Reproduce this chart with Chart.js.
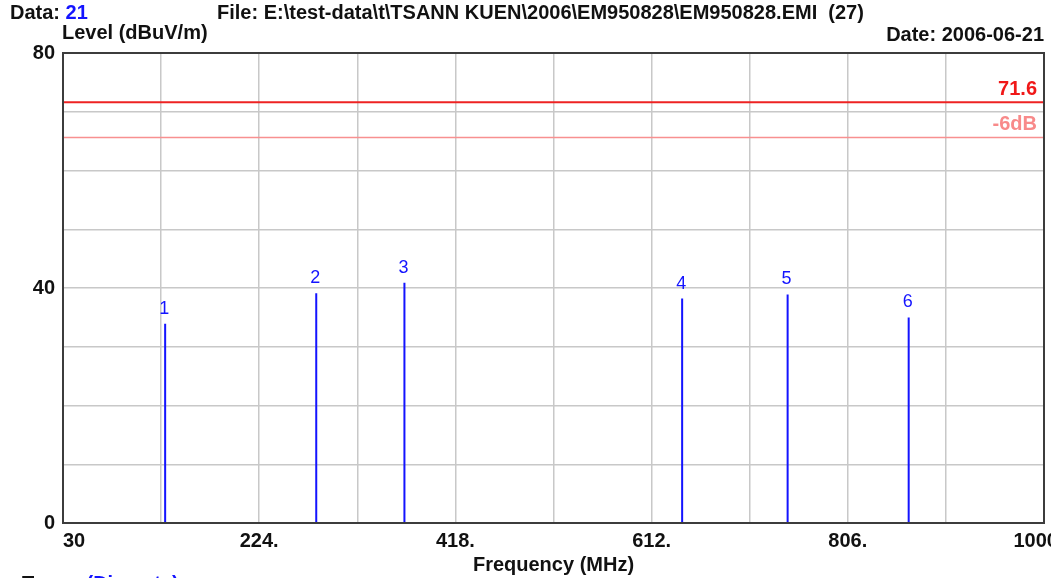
<!DOCTYPE html>
<html>
<head>
<meta charset="utf-8">
<script src="https://cdn.jsdelivr.net/npm/chart.js@4"></script>
<style>
  html, body { margin: 0; padding: 0; background: #fff; overflow: hidden; }
  #wrap { width: 1051px; height: 578px; }
</style>
</head>
<body>
<div id="wrap"><canvas id="emiChart" width="1051" height="578"></canvas></div>
<script>
// marker data
const markerNames = ['1', '2', '3', '4', '5', '6'];
const markerFreqs = [131, 280.4, 367.6, 642.2, 746.5, 866.2];   // MHz
const markerLevels = [33.9, 39.1, 40.9, 38.2, 38.9, 35.0];     // dBuV/m

// limit lines
const limitLevel = 71.6;
const marginLevel = 65.6;   // limit -6dB

// axes
const xTickValues = [30, 224, 418, 612, 806, 1000];
const xTickLabels = ['    30', '224.', '418.', '612.', '806.', '1000   '];
const yTickValues = [0, 40, 80];
const yTickLabels = ['0', '40', '80'];

const FONT = '"Liberation Sans", Arial, sans-serif';
const BLUE = '#1414ff';

// build the stick data (bottom -> top, then a gap)
const stickData = [];
markerFreqs.forEach((f, i) => {
  stickData.push({ x: f, y: 0 });
  stickData.push({ x: f, y: markerLevels[i] });
  stickData.push({ x: f, y: null });
});

const textPlugin = {
  id: 'emiText',
  afterDraw(chart) {
    const ctx = chart.ctx;
    const xs = chart.scales.x, ys = chart.scales.y;
    const area = chart.chartArea;
    ctx.save();

    // frame round the plot
    ctx.strokeStyle = '#3c3c3c';
    ctx.lineWidth = 2;
    ctx.strokeRect(area.left, area.top, area.right - area.left, area.bottom - area.top);

    // marker numbers
    ctx.font = '18px ' + FONT;
    ctx.fillStyle = BLUE;
    ctx.textAlign = 'center';
    ctx.textBaseline = 'middle';
    markerFreqs.forEach((f, i) => {
      ctx.fillText(markerNames[i], xs.getPixelForValue(f) - 1, ys.getPixelForValue(markerLevels[i]) - 15);
    });

    // limit labels
    ctx.textAlign = 'right';
    ctx.font = 'bold 20px ' + FONT;
    ctx.fillStyle = '#f01818';
    ctx.fillText(String(limitLevel), area.right - 7, ys.getPixelForValue(limitLevel) - 13);
    ctx.fillStyle = '#f88a8a';
    ctx.fillText('-6dB', area.right - 7, ys.getPixelForValue(marginLevel) - 13);

    // header
    ctx.textAlign = 'left';
    ctx.fillStyle = '#111';
    ctx.fillText('Data: ', 10, 13);
    const w = ctx.measureText('Data: ').width;
    ctx.fillStyle = BLUE;
    ctx.fillText('21', 10 + w, 13);
    ctx.fillStyle = '#111';
    ctx.fillText('File: E:\\test-data\\t\\TSANN KUEN\\2006\\EM950828\\EM950828.EMI  (27)', 217, 13);
    ctx.fillText('Level (dBuV/m)', 62, 33);
    ctx.textAlign = 'right';
    ctx.fillText('Date: 2006-06-21', 1044, 35);

    // footer (cut by window edge)
    ctx.textAlign = 'left';
    ctx.fillText('Trace: ', 22, 584);
    const tw = ctx.measureText('Trace: ').width;
    ctx.fillStyle = BLUE;
    ctx.fillText('(Discrete)', 22 + tw, 584);

    ctx.restore();
  }
};

new Chart(document.getElementById('emiChart').getContext('2d'), {
  type: 'scatter',
  data: {
    datasets: [
      {
        label: 'Limit',
        data: [{ x: 30, y: limitLevel }, { x: 1000, y: limitLevel }],
        showLine: true,
        borderColor: '#ee2222',
        borderWidth: 2,
        pointRadius: 0,
      },
      {
        label: '-6dB',
        data: [{ x: 30, y: marginLevel }, { x: 1000, y: marginLevel }],
        showLine: true,
        borderColor: '#f89090',
        borderWidth: 1.5,
        pointRadius: 0,
      },
      {
        label: 'Discrete',
        data: stickData,
        showLine: true,
        spanGaps: false,
        borderColor: BLUE,
        borderWidth: 2,
        pointRadius: 0,
      },
    ],
  },
  options: {
    responsive: false,
    devicePixelRatio: 1,
    animation: false,
    layout: { padding: { left: 0, right: 7, top: 53, bottom: 0 } },
    plugins: { legend: { display: false }, tooltip: { enabled: false } },
    scales: {
      x: {
        type: 'linear',
        min: 30,
        max: 1000,
        afterFit: (scale) => { scale.height = 55; scale.paddingLeft = 0; scale.paddingRight = 0; },
        ticks: {
          stepSize: 97,
          autoSkip: false,
          maxRotation: 0,
          padding: 6,
          color: '#111',
          font: { family: FONT, size: 20, weight: 'bold' },
          callback: (v) => {
            const i = xTickValues.indexOf(Math.round(v));
            return i >= 0 ? xTickLabels[i] : '';
          },
        },
        grid: { color: '#c8c8c8', lineWidth: 1.5, drawTicks: false },
        border: { display: false },
        title: {
          display: true,
          text: 'Frequency (MHz)',
          color: '#111',
          font: { family: FONT, size: 20, weight: 'bold' },
          padding: { top: 0, bottom: 1 },
        },
      },
      y: {
        min: 0,
        max: 80,
        afterFit: (scale) => { scale.width = 63; },
        ticks: {
          stepSize: 10,
          autoSkip: false,
          padding: 8,
          color: '#111',
          font: { family: FONT, size: 20, weight: 'bold' },
          callback: (v) => {
            const i = yTickValues.indexOf(Math.round(v));
            return i >= 0 ? yTickLabels[i] : '';
          },
        },
        grid: { color: '#c8c8c8', lineWidth: 1.5, drawTicks: false },
        border: { display: false },
      },
    },
  },
  plugins: [textPlugin],
});
</script>
</body>
</html>
